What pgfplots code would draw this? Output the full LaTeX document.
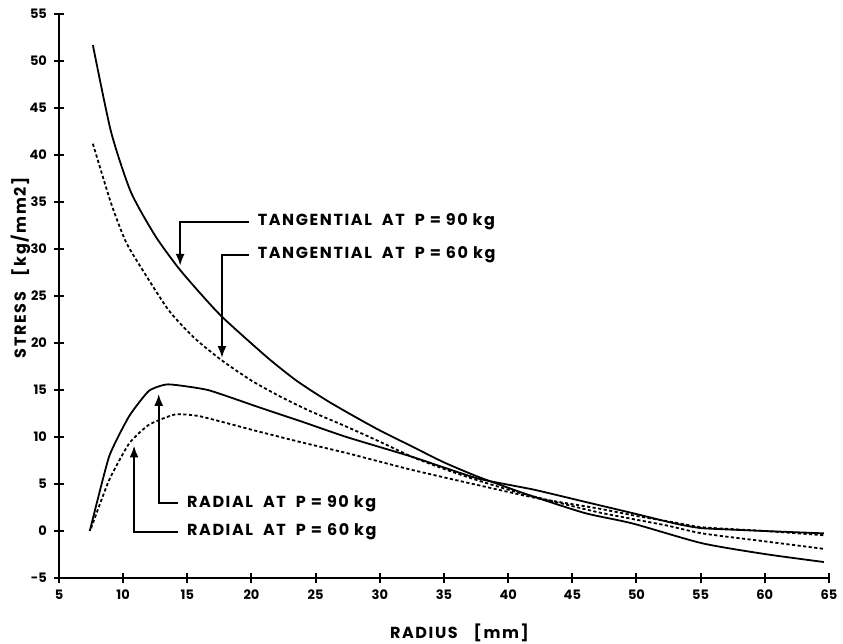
\documentclass[border=0pt]{standalone}
\usepackage{fontspec}
\setmainfont{Poppins}
\usepackage{pgfplots}
\pgfplotsset{compat=1.18}
\usetikzlibrary{arrows.meta}
\newcommand\lbl{\fontsize{8}{9}\selectfont\bfseries\addfontfeatures{LetterSpace=10}}
\begin{document}
\begin{tikzpicture}
\useasboundingbox (-29.5pt,-33pt) rectangle (392pt,289pt);
\begin{axis}[
  scale only axis, width=385pt, height=282pt,
  xmin=5, xmax=65, ymin=-5, ymax=55,
  axis lines=left, axis line style={-, line width=1.1pt},
  xtick={5,10,...,65}, ytick={-5,0,...,55},
  tick align=center, major tick length=5pt,
  tick style={line width=1pt, black},
  tick label style={font=\fontsize{6.5}{7}\selectfont\bfseries},
  /pgf/number format/assume math mode=true,
  xlabel={RADIUS\quad [mm]}, ylabel={STRESS\quad [kg/mm2]},
  label style={font=\lbl},
  xlabel style={at={(axis description cs:0.52,-0.0975)}, anchor=center},
  ylabel style={at={(axis description cs:-0.05,0.55)}, anchor=center},
  clip=false,
]
% Tangential 90 kg
\addplot[black, line width=0.9pt, smooth, tension=0.4] coordinates {
(7.64,51.7) (9.05,42.5) (10.59,36.1) (12.5,31.4) (14.3,28.0) (16,25.3) (17.77,22.7) (21.2,18.5) (23.5,16.0) (25.85,13.9) (28,12.2) (30,10.7) (32.5,9.0) (35,7.3) (37.6,5.8) (40,4.6) (42,3.65) (46,1.9) (49.7,0.8) (55.1,-1.3) (60,-2.45) (64.6,-3.3)};
% Tangential 60 kg
\addplot[black, line width=0.9pt, dash pattern=on 1.6pt off 1.2pt, smooth, tension=0.4] coordinates {
(7.64,41.2) (9.05,34.9) (10.2,30.8) (11.5,27.8) (13.54,23.5) (15.5,20.6) (17.64,18.2) (20,16.0) (22.25,14.3) (24.5,12.8) (27.4,11.1) (30,9.5) (32.5,7.9) (35,6.6) (37.6,5.4) (40,4.4) (42.2,3.6) (47,2.0) (52.3,0.6) (55.1,-0.25) (60,-1.1) (64.6,-1.9)};
% Radial 90 kg
\addplot[black, line width=0.9pt, smooth, tension=0.3] coordinates {
(7.4,0.0) (8.9,7.9) (10.46,12.2) (12.0,14.9) (13.5,15.6) (16.6,15.0) (20.5,13.2) (24,11.6) (27.4,10.0) (32.5,7.9) (37.6,5.6) (42,4.4) (46,3.1) (49.7,1.9) (53,0.8) (55.1,0.3) (60,0.0) (64.6,-0.25)};
% Radial 60 kg
\addplot[black, line width=0.9pt, dash pattern=on 1.6pt off 1.2pt, smooth, tension=0.3] coordinates {
(7.5,0.3) (8.9,5.4) (10.46,9.3) (12.0,11.3) (14.05,12.4) (16,12.2) (20.5,10.6) (24,9.4) (27.4,8.3) (32.5,6.5) (37.6,4.9) (42.2,3.5) (47,2.4) (50,1.6) (53,0.9) (55.1,0.4) (60,0.0) (64.6,-0.45)};
% annotations
\begin{scope}[every node/.style={font=\lbl, anchor=west, inner sep=0pt}]
\draw[line width=1.1pt, -{Latex[length=6pt,width=4.5pt]}] (axis cs:19.8,32.9) -- (axis cs:14.44,32.9) -- (axis cs:14.44,28.2);
\node at (axis cs:20.46,32.9) {TANGENTIAL\ \ AT\ \ P\ =\ 90 kg};
\draw[line width=1.1pt, -{Latex[length=6pt,width=4.5pt]}] (axis cs:19.8,29.4) -- (axis cs:17.7,29.4) -- (axis cs:17.7,18.4);
\node at (axis cs:20.46,29.4) {TANGENTIAL\ \ AT\ \ P\ =\ 60 kg};
\draw[line width=1.1pt, -{Latex[length=6pt,width=4.5pt]}] (axis cs:14.3,2.94) -- (axis cs:12.77,2.94) -- (axis cs:12.77,14.6);
\node at (axis cs:14.95,2.94) {RADIAL\ \ AT\ \ P\ =\ 90 kg};
\draw[line width=1.1pt, -{Latex[length=6pt,width=4.5pt]}] (axis cs:14.3,-0.1) -- (axis cs:10.85,-0.1) -- (axis cs:10.85,9.1);
\node at (axis cs:14.95,-0.1) {RADIAL\ \ AT\ \ P\ =\ 60 kg};
\end{scope}
\end{axis}
\end{tikzpicture}
\end{document}
